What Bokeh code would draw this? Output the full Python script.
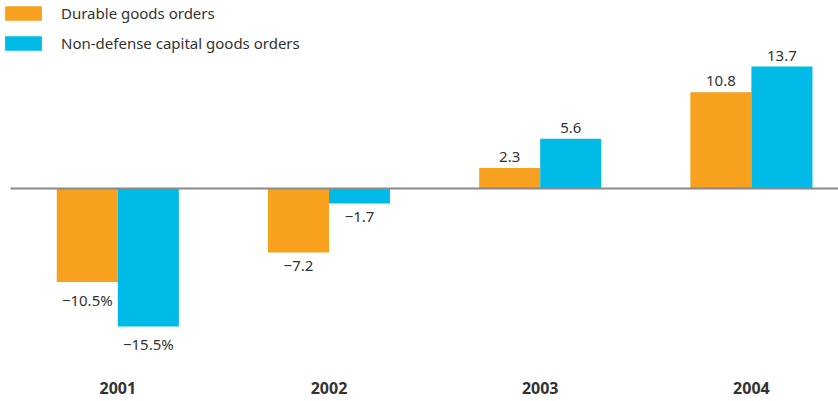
from bokeh.plotting import figure
from bokeh.models import ColumnDataSource, Range1d, FixedTicker, Legend
from bokeh.core.properties import value
from bokeh.embed import file_html
from bokeh.resources import INLINE

years = ["2001", "2002", "2003", "2004"]
durable = [-10.5, -7.2, 2.3, 10.8]
capital = [-15.5, -1.7, 5.6, 13.7]
durable_labels = ["\u221210.5%", "\u22127.2", "2.3", "10.8"]
capital_labels = ["\u221215.5%", "\u22121.7", "5.6", "13.7"]

ORANGE = "#F7A11F"
CYAN = "#00BBE7"
TEXT = "#333333"
FONT = "Noto Sans"

pos = list(range(len(years)))
dx = 0.1445
bw = 0.289

p = figure(width=838, height=401, output_backend="svg", toolbar_location=None,
           x_range=Range1d(-0.5554, 3.4124), y_range=Range1d(-20.45, 21.12),
           min_border_left=0, min_border_right=0, min_border_top=0, min_border_bottom=31)
p.outline_line_color = None
p.grid.visible = False
p.yaxis.visible = False

xa = p.xaxis[0]
xa.ticker = FixedTicker(ticks=pos)
xa.major_label_overrides = {i: y for i, y in enumerate(years)}
xa.axis_line_color = None
xa.major_tick_line_color = None
xa.minor_tick_line_color = None
xa.major_label_standoff = 5
xa.major_label_text_font = FONT
xa.major_label_text_font_style = "bold"
xa.major_label_text_font_size = "16px"
xa.major_label_text_color = TEXT

src_d = ColumnDataSource(dict(x=[i - dx for i in pos], v=durable))
src_c = ColumnDataSource(dict(x=[i + dx for i in pos], v=capital))

r1 = p.vbar(x="x", top="v", bottom=0, width=bw, source=src_d, fill_color=ORANGE, line_color=None)
r2 = p.vbar(x="x", top="v", bottom=0, width=bw, source=src_c, fill_color=CYAN, line_color=None)

# zero line
p.segment(x0=[-0.508], y0=[0], x1=[3.4124], y1=[0], line_color="#8a8a8a", line_width=2)

for vals, labs, xs in [(durable, durable_labels, [i - dx for i in pos]),
                       (capital, capital_labels, [i + dx for i in pos])]:
    pos_x = [x for x, v in zip(xs, vals) if v >= 0]
    pos_v = [v for v in vals if v >= 0]
    pos_l = [l for l, v in zip(labs, vals) if v >= 0]
    neg_x = [x for x, v in zip(xs, vals) if v < 0]
    neg_v = [v for v in vals if v < 0]
    neg_l = [l for l, v in zip(labs, vals) if v < 0]
    p.text(x=pos_x, y=pos_v, text=pos_l, text_align="center", text_baseline="bottom",
           y_offset=-6, text_font=value(FONT), text_font_size="15px", text_color=TEXT)
    p.text(x=neg_x, y=neg_v, text=neg_l, text_align="center", text_baseline="top",
           y_offset=8, text_font=value(FONT), text_font_size="15px", text_color=TEXT)

legend = Legend(items=[("Durable goods orders", [r1]), ("Non-defense capital goods orders", [r2])],
                location="top_left", orientation="vertical",
                glyph_width=46, glyph_height=18, label_standoff=15, spacing=4,
                padding=2, margin=0, label_height=26,
                label_text_font=FONT, label_text_font_size="15px", label_text_color=TEXT,
                border_line_color=None, background_fill_alpha=0)
p.add_layout(legend)

open("out.html", "w").write(file_html(p, INLINE))
